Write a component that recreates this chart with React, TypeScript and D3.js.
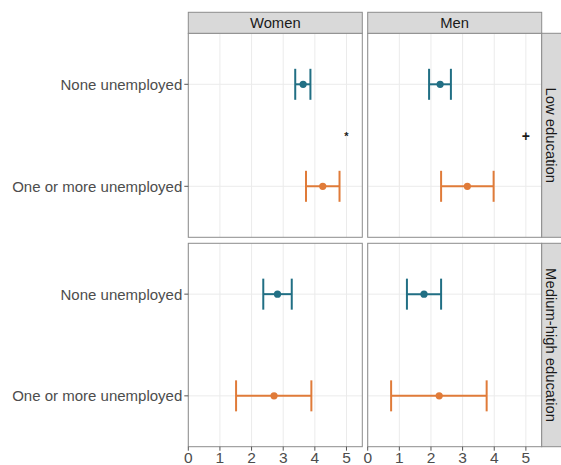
import * as d3 from 'd3';

const sexes = ['Women', 'Men'];
const educations = ['Low education', 'Medium-high education'];
const groups = ['None unemployed', 'One or more unemployed'];
const xTicks = [0, 1, 2, 3, 4, 5];

// estimate, lower, upper — ordered by education, sex, group
const estimates = [
	[[3.63, 4.25], [2.29, 3.15]],
	[[2.82, 2.71], [1.78, 2.26]],
];
const lowers = [
	[[3.38, 3.72], [1.94, 2.32]],
	[[2.37, 1.51], [1.24, 0.74]],
];
const uppers = [
	[[3.86, 4.78], [2.63, 3.98]],
	[[3.27, 3.89], [2.32, 3.76]],
];
// significance markers shown at x = 5 in the low education row
const markers = [['*', '+'], ['', '']];
const markerX = 5;

const colors = ['#216f84', '#e07b39'];

export default function App() {
	const width = 561;
	const height = 465;
	const font = "'Liberation Sans', Arial, sans-serif";

	const colX = [
		[188.3, 362.3],
		[367.7, 541.7],
	];
	const rowY = [
		[33.3, 237.3],
		[243.3, 446.7],
	];
	const stripTop = [12.3, 33.3];
	const stripRight = [541.7, 563];

	const xScales = colX.map(([a, b]) =>
		d3.scaleLinear().domain([0, 5.5]).range([a, b])
	);
	const yScales = rowY.map(([a, b]) =>
		d3.scalePoint<string>().domain(groups).range([a, b]).padding(0.5)
	);

	const gridColor = '#ebebeb';
	const borderColor = '#8c8c8c';
	const cap = 15.5;

	return (
		<svg
			width={width}
			height={height}
			style={{ position: 'absolute', left: 0, top: 0 }}
			fontFamily={font}
		>
			<rect width={width} height={height} fill="#fff" />
			{educations.map((edu, r) =>
				sexes.map((sex, c) => {
					const x = xScales[c];
					const y = yScales[r];
					const [x0, x1] = colX[c];
					const [y0, y1] = rowY[r];
					return (
						<g key={edu + sex}>
							{xTicks.map((t) => (
								<line key={'gx' + t} x1={x(t)} x2={x(t)} y1={y0} y2={y1} stroke={gridColor} strokeWidth={1} />
							))}
							{groups.map((g) => (
								<line key={'gy' + g} x1={x0} x2={x1} y1={y(g)} y2={y(g)} stroke={gridColor} strokeWidth={1} />
							))}
							{groups.map((g, i) => {
								const yy = y(g)!;
								const lo = x(lowers[r][c][i]);
								const hi = x(uppers[r][c][i]);
								const col = colors[i];
								return (
									<g key={'e' + g} stroke={col} strokeWidth={2} fill={col}>
										<line x1={lo} x2={hi} y1={yy} y2={yy} />
										<line x1={lo} x2={lo} y1={yy - cap} y2={yy + cap} />
										<line x1={hi} x2={hi} y1={yy - cap} y2={yy + cap} />
										<circle cx={x(estimates[r][c][i])} cy={yy} r={3.6} stroke="none" />
									</g>
								);
							})}
							{markers[r][c] && (
								<text
									x={x(markerX)}
									y={(y(groups[0])! + y(groups[1])!) / 2 + 1}
									textAnchor="middle"
									dominantBaseline="central"
									fontSize={markers[r][c] === '*' ? 11 : 14}
									fontWeight="bold"
									fill="#1a1a1a"
								>
									{markers[r][c]}
								</text>
							)}
							<rect x={x0} y={y0} width={x1 - x0} height={y1 - y0} fill="none" stroke={borderColor} strokeWidth={1} />
						</g>
					);
				})
			)}
			{/* top strips */}
			{sexes.map((sex, c) => (
				<g key={'st' + sex}>
					<rect x={colX[c][0]} y={stripTop[0]} width={colX[c][1] - colX[c][0]} height={stripTop[1] - stripTop[0]} fill="#d9d9d9" stroke={borderColor} strokeWidth={1} />
					<text x={(colX[c][0] + colX[c][1]) / 2} y={(stripTop[0] + stripTop[1]) / 2} textAnchor="middle" dominantBaseline="central" fontSize={14.8} fill="#1a1a1a">
						{sex}
					</text>
				</g>
			))}
			{/* right strips */}
			{educations.map((edu, r) => {
				const cy = (rowY[r][0] + rowY[r][1]) / 2;
				const cx = 550.5;
				return (
					<g key={'sr' + edu}>
						<rect x={stripRight[0]} y={rowY[r][0]} width={stripRight[1] - stripRight[0]} height={rowY[r][1] - rowY[r][0]} fill="#d9d9d9" stroke={borderColor} strokeWidth={1} />
						<text transform={`translate(${cx},${cy}) rotate(90)`} textAnchor="middle" dominantBaseline="central" fontSize={14.8} fill="#1a1a1a">
							{edu}
						</text>
					</g>
				);
			})}
			{/* y axis */}
			{educations.map((edu, r) =>
				groups.map((g) => {
					const yy = yScales[r](g)!;
					return (
						<g key={'yl' + edu + g}>
							<line x1={colX[0][0] - 4} x2={colX[0][0]} y1={yy} y2={yy} stroke="#555" strokeWidth={1} />
							<text x={colX[0][0] - 6} y={yy} textAnchor="end" dominantBaseline="central" fontSize={15} fill="#4d4d4d">
								{g}
							</text>
						</g>
					);
				})
			)}
			{/* x axis */}
			{sexes.map((sex, c) =>
				xTicks.map((t) => {
					const xx = xScales[c](t);
					return (
						<g key={'xl' + sex + t}>
							<line x1={xx} x2={xx} y1={rowY[1][1]} y2={rowY[1][1] + 4} stroke="#555" strokeWidth={1} />
							<text x={xx} y={462.5} textAnchor="middle" fontSize={15.5} fill="#4d4d4d">
								{t}
							</text>
						</g>
					);
				})
			)}
		</svg>
	);
}
